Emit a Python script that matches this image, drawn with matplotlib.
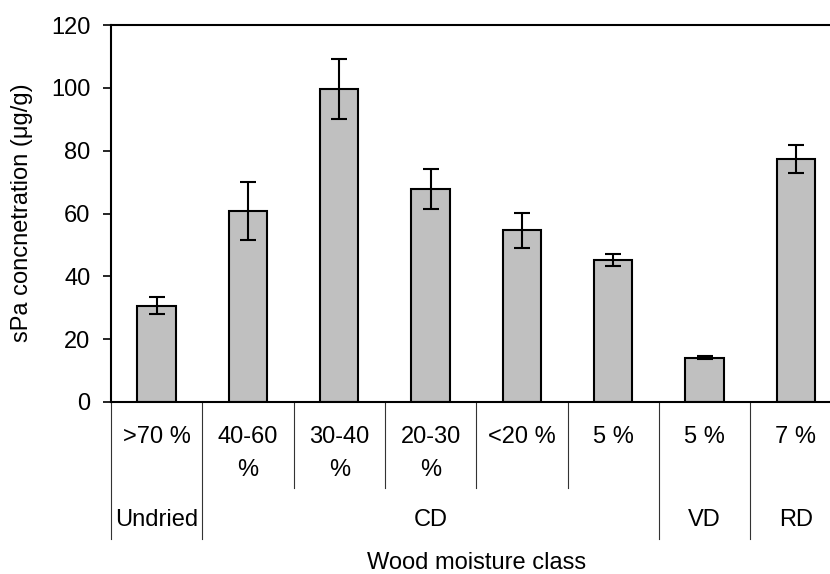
import matplotlib
matplotlib.use('Agg')
import matplotlib.pyplot as plt
import matplotlib.transforms as mtransforms

moisture = [">70 %", "40-60\n%", "30-40\n%", "20-30\n%", "<20 %", "5 %", "5 %", "7 %"]
methods = ["Undried", "CD", "VD", "RD"]
method_span = [1, 5, 1, 1]
values = [30.7, 60.9, 99.6, 67.9, 54.6, 45.2, 14.1, 77.4]
errors = [2.6, 9.2, 9.5, 6.4, 5.7, 1.8, 0.5, 4.4]
yticks = [0, 20, 40, 60, 80, 100, 120]

plt.rcParams['font.family'] = ['Liberation Sans', 'DejaVu Sans']
FS = 17

fig = plt.figure(figsize=(8.3, 5.74), dpi=100)
ax = fig.add_axes([111/830, 1-402/574, 730.5/830, 377/574])
x = list(range(len(values)))
ax.bar(x, values, width=0.42, color='#c0c0c0', edgecolor='black', linewidth=1.5,
       yerr=errors, error_kw=dict(ecolor='black', elinewidth=1.5, capsize=5.5, capthick=1.5))
ax.set_xlim(-0.5, len(values) - 0.5)
ax.set_ylim(0, 120)
ax.set_yticks(yticks)
ax.tick_params(axis='y', length=5.8, width=1.2, labelsize=FS, pad=9)
ax.set_xticks([])
ax.spines['right'].set_visible(False)
for s in ['left', 'top', 'bottom']:
    ax.spines[s].set_linewidth(1.5)

trans = mtransforms.blended_transform_factory(ax.transData, ax.transAxes)

# category labels
for i, lab in enumerate(moisture):
    lines = lab.split("\n")
    for j, ln in enumerate(lines):
        ax.text(i, -0.092 - 0.088 * j, ln, transform=trans, ha='center', va='center',
                fontsize=FS, clip_on=False)

# group boundaries
bounds = [0]
for s in method_span:
    bounds.append(bounds[-1] + s)
for i in range(len(values) + 1):
    xb = i - 0.5
    long = i in bounds
    ax.plot([xb, xb], [0, -0.363 if long else -0.227], transform=trans, color='#333333',
            lw=0.8, clip_on=False)

for k, m in enumerate(methods):
    c = (bounds[k] + bounds[k + 1] - 1) / 2
    ax.text(c, -0.313, m, transform=trans, ha='center', va='center', fontsize=FS, clip_on=False)

ax.text(0.5, -0.427, "Wood moisture class", transform=ax.transAxes, ha='center', va='center',
        fontsize=FS, clip_on=False)
fig.text(22/830, 1 - 213/574, "sPa concnetration (μg/g)", rotation=90, ha='center', va='center',
         fontsize=FS)

fig.savefig("out.png", dpi=100)
